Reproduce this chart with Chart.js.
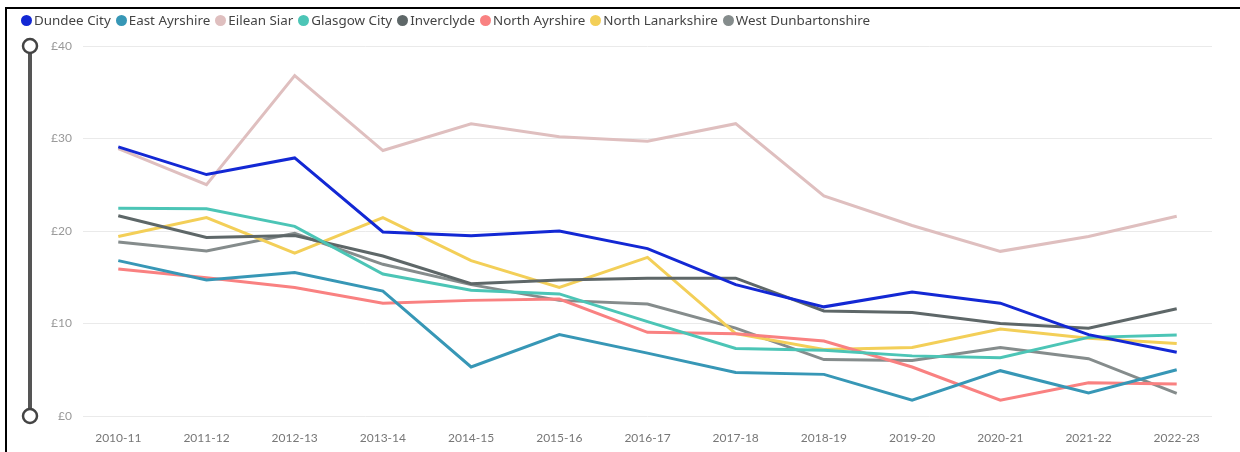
<!DOCTYPE html>
<html>
<head>
<meta charset="utf-8">
<script src="https://cdn.jsdelivr.net/npm/chart.js@4"></script>
<style>
  html, body { margin: 0; padding: 0; background: #fff; }
  #wrap { position: relative; width: 1240px; height: 452px; overflow: hidden; font-family: "Segoe UI", Lato, "Noto Sans", sans-serif; }
  #frame { position: absolute; left: 5px; top: 7px; width: 1240px; height: 460px; border-top: 2px solid #000; border-left: 2px solid #000; box-sizing: border-box; pointer-events: none; }
  #legend { position: absolute; left: 21px; top: 11px; display: flex; align-items: center; font-family: "Noto Sans", sans-serif; font-size: 13.4px; color: #444; white-space: nowrap; }
  .item { display: flex; align-items: center; margin-right: 5px; }
  .dot { width: 11px; height: 11px; border-radius: 50%; margin-right: 2px; }
  canvas { position: absolute; left: 0; top: 0; }
</style>
</head>
<body>
<div id="wrap">
  <canvas id="c" width="1240" height="452"></canvas>
  <div id="legend"></div>
  <div id="frame"></div>
</div>
<script>
const categories = ['2010-11','2011-12','2012-13','2013-14','2014-15','2015-16','2016-17','2017-18','2018-19','2019-20','2020-21','2021-22','2022-23'];
const yTicks = [0, 10, 20, 30, 40];

const dundeeCity        = [29.1, 26.1, 27.9, 19.9, 19.5, 20.0, 18.1, 14.2, 11.8, 13.4, 12.2, 8.8, 6.9];
const eastAyrshire      = [16.8, 14.7, 15.5, 13.5, 5.3, 8.8, 6.8, 4.7, 4.5, 1.7, 4.9, 2.5, 5.0];
const eileanSiar        = [28.9, 25.0, 36.8, 28.7, 31.6, 30.2, 29.7, 31.6, 23.8, 20.6, 17.8, 19.4, 21.6];
const glasgowCity       = [22.45, 22.4, 20.5, 15.35, 13.6, 13.2, 10.2, 7.3, 7.1, 6.5, 6.3, 8.5, 8.75];
const inverclyde        = [21.65, 19.3, 19.5, 17.3, 14.3, 14.7, 14.9, 14.9, 11.35, 11.2, 10.0, 9.5, 11.6];
const northAyrshire     = [15.9, 14.95, 13.9, 12.2, 12.5, 12.65, 9.05, 8.9, 8.1, 5.3, 1.7, 3.6, 3.45];
const northLanarkshire  = [19.4, 21.45, 17.6, 21.45, 16.8, 13.9, 17.15, 8.9, 7.2, 7.4, 9.4, 8.4, 7.85];
const westDunbartonshire= [18.8, 17.85, 19.75, 16.4, 14.2, 12.5, 12.1, 9.5, 6.1, 6.0, 7.4, 6.2, 2.45];

const seriesNames  = ['Dundee City','East Ayrshire','Eilean Siar','Glasgow City','Inverclyde','North Ayrshire','North Lanarkshire','West Dunbartonshire'];
const seriesValues = [dundeeCity, eastAyrshire, eileanSiar, glasgowCity, inverclyde, northAyrshire, northLanarkshire, westDunbartonshire];
const seriesColors = ['#1328D4','#3797B6','#DFBFBF','#4CC5B6','#5E6768','#F98181','#F3CF58','#858C8C'];

const datasets = seriesNames.map((name, i) => ({
  label: name,
  data: seriesValues[i].map((v, j) => ({ x: j, y: v })),
  borderColor: seriesColors[i],
  backgroundColor: seriesColors[i],
  borderWidth: 3,
  pointRadius: 0,
  pointHoverRadius: 0,
  tension: 0,
  fill: false,
  order: i
}));

const sliderPlugin = {
  id: 'slider',
  afterDraw(chart) {
    const ctx = chart.ctx;
    const y = chart.scales.y;
    const top = y.getPixelForValue(yTicks[yTicks.length - 1]);
    const bot = y.getPixelForValue(yTicks[0]);
    const x = 30;
    ctx.save();
    ctx.strokeStyle = '#555';
    ctx.lineWidth = 4;
    ctx.beginPath();
    ctx.moveTo(x, top);
    ctx.lineTo(x, bot);
    ctx.stroke();
    [top, bot].forEach(cy => {
      ctx.beginPath();
      ctx.arc(x, cy, 7, 0, Math.PI * 2);
      ctx.fillStyle = '#fff';
      ctx.fill();
      ctx.lineWidth = 2.5;
      ctx.strokeStyle = '#444';
      ctx.stroke();
    });
    ctx.restore();
  }
};

const chart = new Chart(document.getElementById('c'), {
  type: 'line',
  data: { datasets },
  plugins: [sliderPlugin],
  options: {
    responsive: false,
    animation: false,
    layout: { padding: { left: 0, top: 46, right: 28, bottom: 0 } },
    plugins: { legend: { display: false }, tooltip: { enabled: false } },
    scales: {
      x: {
        type: 'linear',
        min: -0.4,
        max: categories.length - 1 + 0.4,
        afterBuildTicks: s => { s.ticks = categories.map((_, i) => ({ value: i })); },
        afterFit: s => { s.height = 36; },
        grid: { display: false },
        border: { display: false },
        ticks: {
          autoSkip: false,
          maxRotation: 0,
          padding: 7,
          color: '#777',
          font: { family: '"Segoe UI", Lato, sans-serif', size: 12 },
          callback: v => categories[v] ?? ''
        }
      },
      y: {
        min: 0,
        max: 40,
        afterBuildTicks: s => { s.ticks = yTicks.map(v => ({ value: v })); },
        afterFit: s => { s.width = 83; },
        grid: { color: '#EAEAEA', lineWidth: 1, drawTicks: false },
        border: { display: false },
        ticks: {
          padding: 11,
          color: '#999',
          font: { family: '"Segoe UI", Lato, sans-serif', size: 12 },
          callback: v => '£' + v
        }
      }
    }
  }
});

const legend = document.getElementById('legend');
chart.data.datasets.forEach(d => {
  const item = document.createElement('div');
  item.className = 'item';
  const dot = document.createElement('span');
  dot.className = 'dot';
  dot.style.background = d.borderColor;
  const txt = document.createElement('span');
  txt.textContent = d.label;
  item.appendChild(dot);
  item.appendChild(txt);
  legend.appendChild(item);
});
</script>
</body>
</html>
